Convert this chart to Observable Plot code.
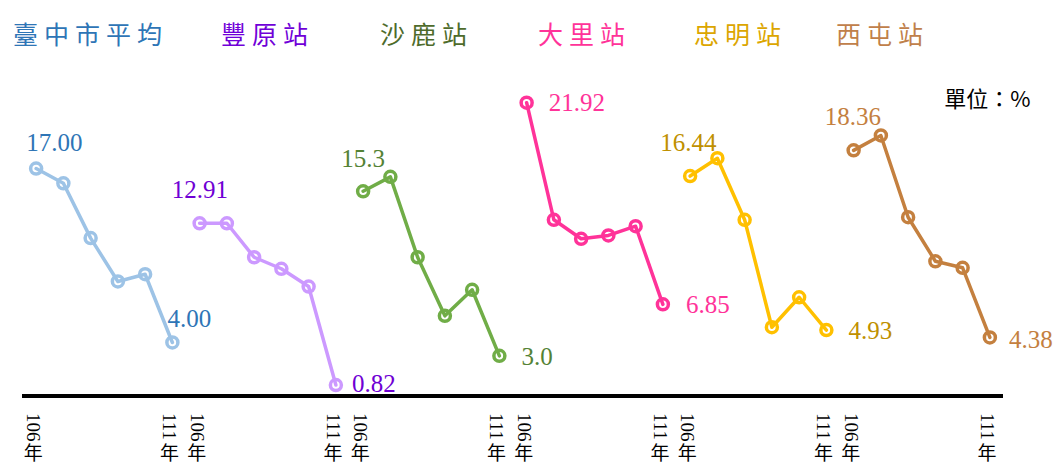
<!DOCTYPE html>
<html>
<head>
<meta charset="utf-8">
<script src="https://cdn.jsdelivr.net/npm/d3@7"></script>
<script src="https://cdn.jsdelivr.net/npm/@observablehq/plot@0.6"></script>
<style>
  body { margin: 0; background: #fff; }
  #wrap { width: 1056px; }
  #legend {
    position: relative; height: 60px;
    font-family: "Noto Sans CJK TC", "Noto Sans CJK SC", sans-serif;
    font-size: 25px; letter-spacing: 6px;
  }
  #legend span { position: absolute; top: 16px; line-height: 34px; white-space: nowrap; }
  #legend span:nth-child(1) { left: 13px; }
  #legend span:nth-child(2) { left: 221px; }
  #legend span:nth-child(3) { left: 380px; }
  #legend span:nth-child(4) { left: 538px; }
  #legend span:nth-child(5) { left: 694px; }
  #legend span:nth-child(6) { left: 836px; }
</style>
</head>
<body>
<div id="wrap">
  <div id="legend"></div>
  <div id="chart"></div>
</div>
<script>
// Years and stations
const years = ["106年", "107年", "108年", "109年", "110年", "111年"];
const stations = ["臺中市平均", "豐原站", "沙鹿站", "大里站", "忠明站", "西屯站"];

// Percentages per station, 106年 → 111年
const taichungAvg = [17.00, 15.90, 11.80, 8.56, 9.10, 4.00];
const fengyuan    = [12.91, 12.91, 10.37, 9.51, 8.18, 0.82];
const shalu       = [15.3, 16.38, 10.37, 5.99, 7.94, 3.0];
const dali        = [21.92, 13.17, 11.75, 12.00, 12.69, 6.85];
const zhongming   = [16.44, 17.77, 13.17, 5.14, 7.38, 4.93];
const xitun       = [18.36, 19.47, 13.36, 10.07, 9.58, 4.38];
const series = [taichungAvg, fengyuan, shalu, dali, zhongming, xitun];

// Decimals shown in each station's end labels
const labelDecimals = [2, 2, 1, 2, 2, 2];
const unitLabel = "單位：%";

// Styling
const lineColors  = ["#9dc3e6", "#cc99ff", "#70ad47", "#ff3399", "#ffc000", "#c4803f"];
const labelColors = ["#2e75b6", "#6f00d4", "#548235", "#ff3399", "#bf9000", "#c4803f"];
const legendColors = ["#2e75b6", "#7000d8", "#4e6b2b", "#ff3399", "#dca600", "#c0804a"];
// [dx, dy] offsets for first and last value labels of each station
const labelOffsets = [
  [[-10, -26], [-5, -23]],
  [[-28, -33], [16, -1]],
  [[-22, -32], [22, 1]],
  [[22, 0], [23, 1]],
  [[-30, -33], [22, 1]],
  [[-29, -33], [19, 3]]
];

// Legend above the chart
const legend = d3.select("#legend");
stations.forEach((s, i) => legend.append("span").style("color", legendColors[i]).text(s));

// Every station gets its own run of slots along one shared x axis
const n = years.length;
const rows = stations.flatMap((s, g) =>
  series[g].map((v, i) => ({station: s, group: g, year: years[i], slot: g * n + i, value: v}))
);
const tickRows = rows.filter(d => d.year === years[0] || d.year === years[n - 1]);

const numberFont = "'Liberation Serif', 'Times New Roman', serif";

const labelMarks = [];
stations.forEach((s, g) => {
  const pts = rows.filter(d => d.group === g);
  [pts[0], pts[pts.length - 1]].forEach((p, k) => {
    const [dx, dy] = labelOffsets[g][k];
    labelMarks.push(Plot.text([p], {
      x: "slot", y: "value",
      text: d => d.value.toFixed(labelDecimals[g]),
      textAnchor: "start", lineAnchor: "middle",
      dx, dy,
      fill: labelColors[g],
      fontSize: 25,
      fontFamily: numberFont
    }));
  });
});

// Year tick labels read top-to-bottom: the digits turned a quarter turn,
// the 年 character set upright beneath them
const tickDigits = Plot.text(tickRows, {
  x: "slot", text: d => d.year.replace("年", ""),
  frameAnchor: "bottom", textAnchor: "start", lineAnchor: "middle",
  rotate: 90, dx: -3, dy: 17,
  fill: "#000", fontSize: 19, fontFamily: numberFont
});
const tickChar = Plot.text(tickRows, {
  x: "slot", text: d => d.year.slice(-1),
  frameAnchor: "bottom", textAnchor: "middle", lineAnchor: "middle",
  dx: -3, dy: 58,
  fill: "#000", fontSize: 19, fontFamily: "'Noto Sans CJK TC', serif"
});

const plot = Plot.plot({
  width: 1056,
  height: 408,
  marginLeft: 22,
  marginRight: 53,
  marginTop: 67.9,
  marginBottom: 72.5,
  x: {domain: [-0.5, rows.length - 0.5], axis: null},
  y: {domain: [0, 20], axis: null},
  color: {domain: stations, range: lineColors},
  marks: [
    Plot.ruleY([0], {stroke: "#000", strokeWidth: 4}),
    Plot.line(rows, {x: "slot", y: "value", z: "station", stroke: "station", strokeWidth: 3.5}),
    Plot.dot(rows, {x: "slot", y: "value", r: 5.5, stroke: "station", strokeWidth: 3.5, fill: "none"}),
    ...labelMarks,
    tickDigits,
    tickChar,
    Plot.text([unitLabel], {
      frameAnchor: "top-right", textAnchor: "end", lineAnchor: "middle",
      dx: 27, dy: -28,
      fill: "#000", fontSize: 22, letterSpacing: "2px",
      fontFamily: "'Noto Sans CJK TC', sans-serif"
    })
  ]
});

document.getElementById("chart").append(plot);
</script>
</body>
</html>
